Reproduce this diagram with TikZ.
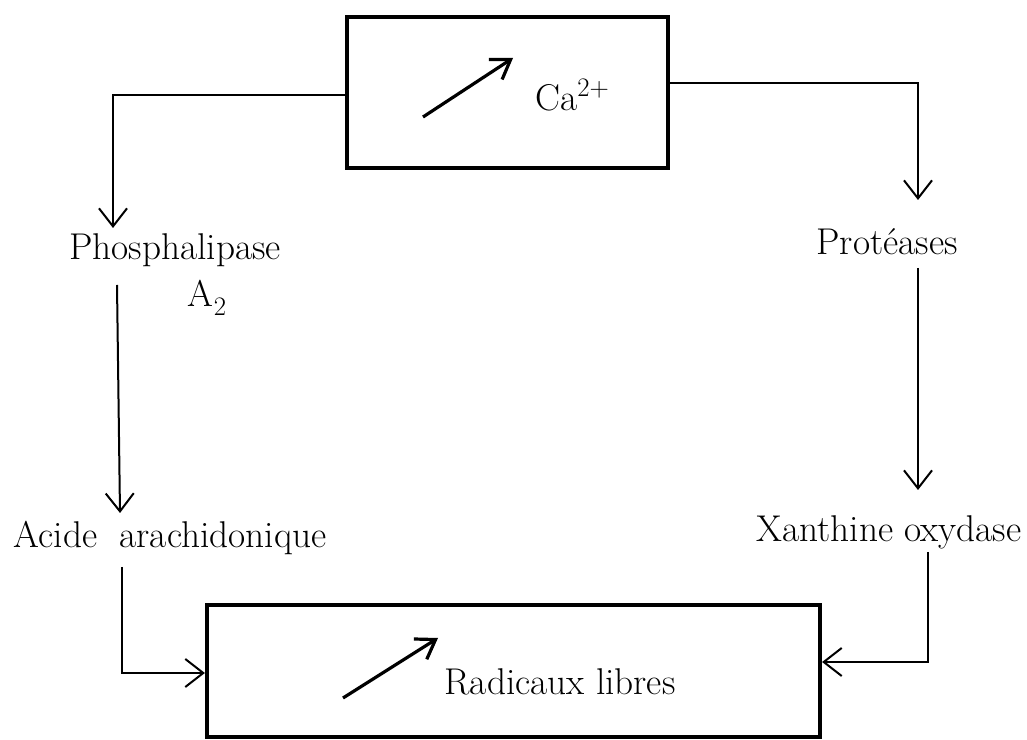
\documentclass[tikz,border=0pt]{standalone}
\usepackage{amsmath}
\usetikzlibrary{calc, arrows.meta}

\begin{document}
\begin{tikzpicture}[x=0.025cm, y=-0.025cm,
    box/.style={draw, line width=1mm, inner sep=0pt},
    lbl/.style={font=\fontsize{26.5}{30}\selectfont, inner sep=1pt},
    conn/.style={line width=0.5mm, -{Straight Barb[length=4.5mm, width=7mm]}},
    rise/.style={line width=0.8mm, -{Straight Barb[length=4.5mm, width=6mm]}}]
  \useasboundingbox (0,0) rectangle (1027,740);

  % cadres
  \node[box, minimum width=8.025cm, minimum height=3.775cm] (calcium) at (507.5,92.5) {};
  \node[box, minimum width=15.325cm, minimum height=3.3cm] (radbox) at (513.5,671) {};

  % fleches montantes dans les cadres
  \draw[rise] (423,117) -- (513,58);
  \draw[rise] (343,698) -- (438,638);

  % textes
  \node[lbl] (ca) at (572,95) {Ca\raisebox{0.4em}{\fontsize{19}{20}\selectfont 2+}};
  \node[lbl] (radicaux) at (560,682) {Radicaux libres};
  \node[lbl] (phospho) at (175,250) {Phosphalipase};
  \node[lbl] (a2) at (207,298) {A\raisebox{-0.25em}{\fontsize{19}{20}\selectfont 2}};
  \node[lbl] (proteases) at (887,242) {Protéases};
  \node[lbl] (acide) at (170,538) {Acide\ \ arachidonique};
  \node[lbl] (xanthine) at (889,532) {Xanthine oxydase};

  \coordinate (P1) at (113,228);
  \coordinate (P2) at (918,200);
  \coordinate (L1) at (117,285);
  \coordinate (L2) at (120,513);
  \coordinate (R1) at (918,268);
  \coordinate (R2) at (918,490);
  \coordinate (B1) at (122,567);
  \coordinate (B2) at (928,552);

  % liaisons
  \draw[conn] (calcium.west |- 0,95) -| (P1);
  \draw[conn] (calcium.east |- 0,83) -| (P2);
  \draw[conn] (L1) -- (L2);
  \draw[conn] (R1) -- (R2);
  \draw[conn] (B1) |- (radbox.west |- 0,673);
  \draw[conn] (B2) |- (radbox.east |- 0,662);
\end{tikzpicture}
\end{document}
